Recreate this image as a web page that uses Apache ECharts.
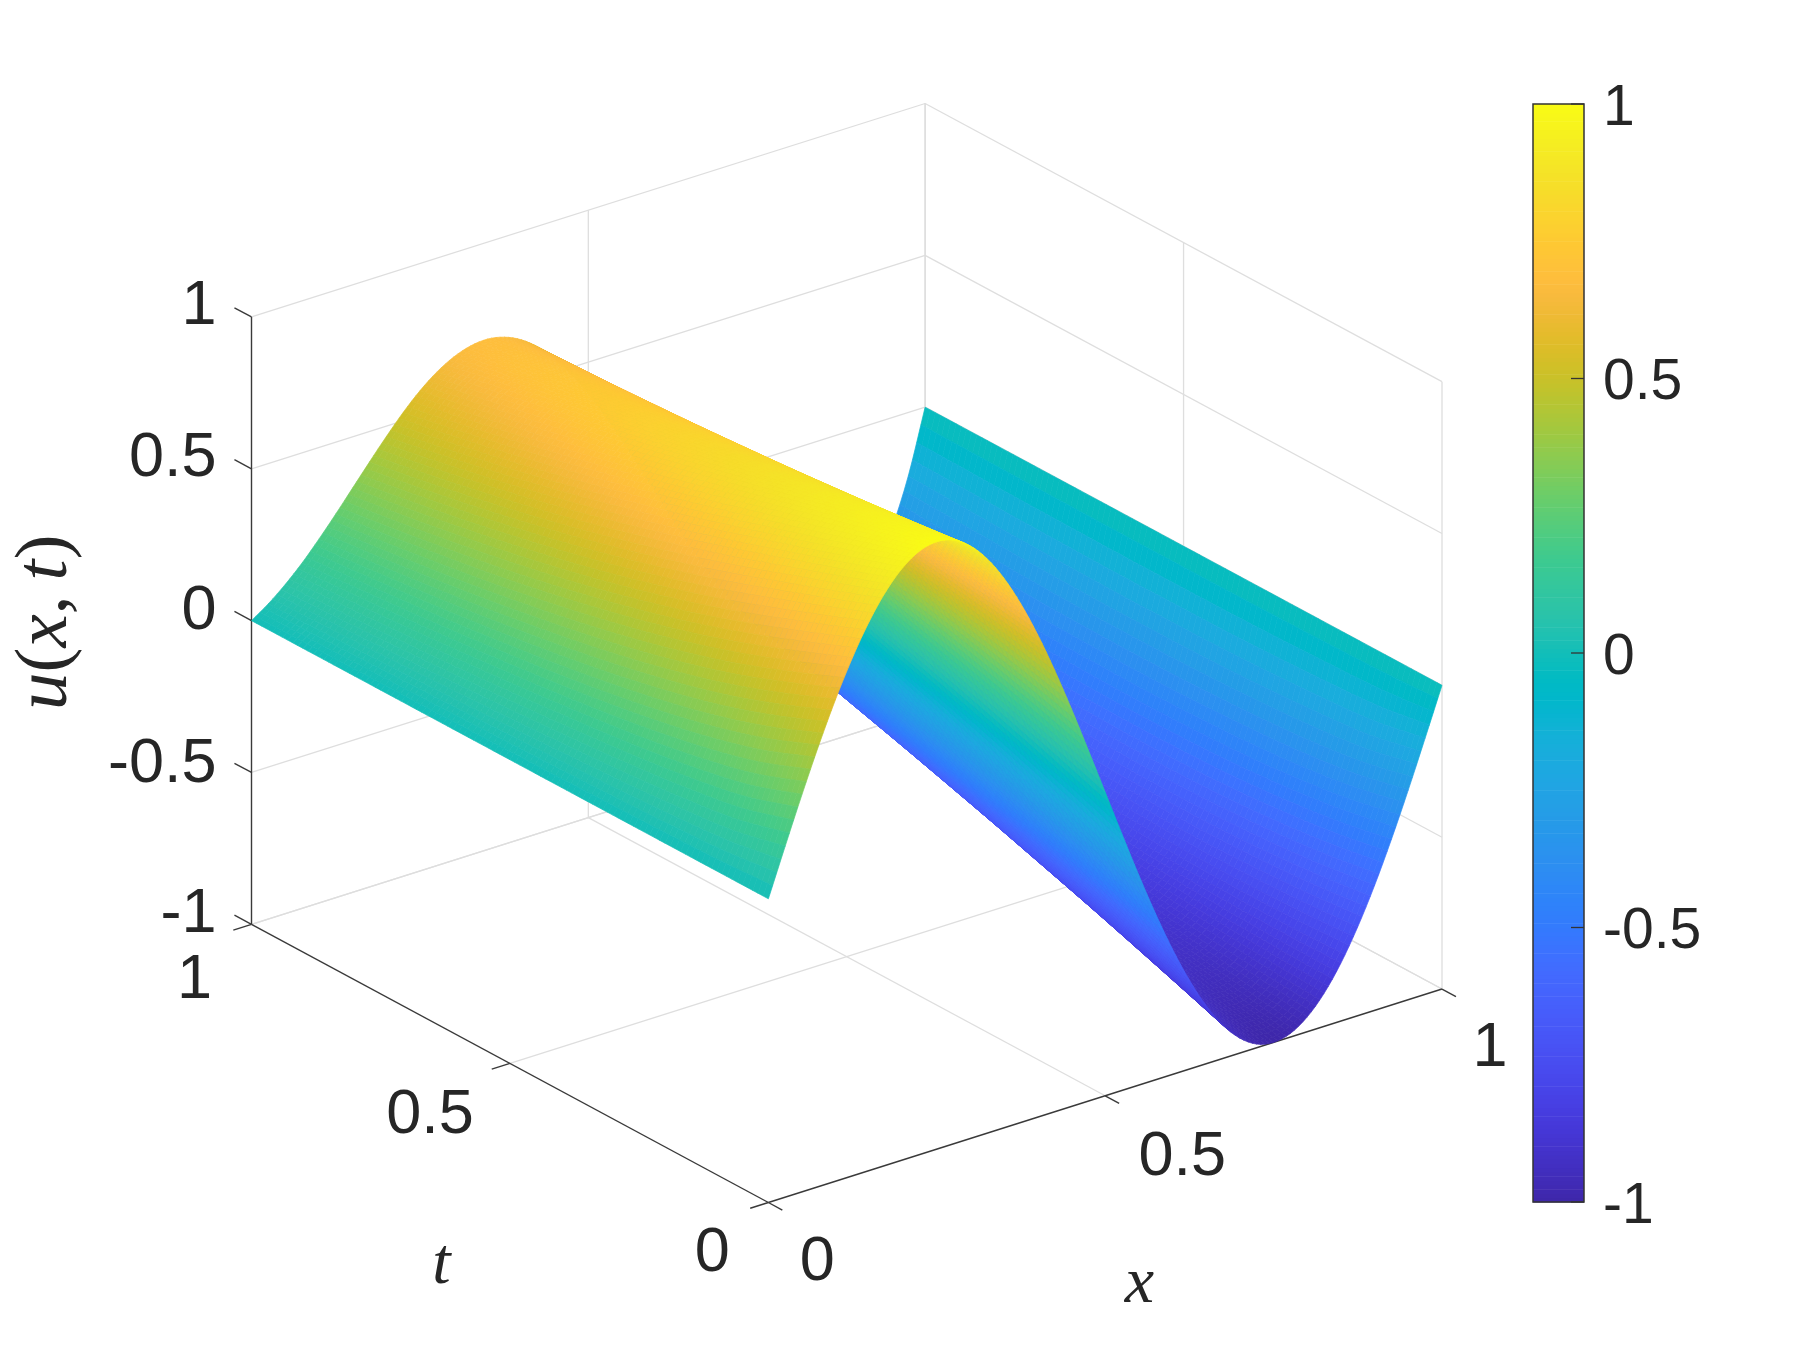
<!DOCTYPE html>
<html><head><meta charset="utf-8">
<style>html,body{margin:0;padding:0;background:#fff}#c{width:1799px;height:1353px}</style>
<script src="https://cdn.jsdelivr.net/npm/echarts@6/dist/echarts.min.js"></script></head>
<body><div id="c"></div>
<script>
const xs=[0,.025,.05,.075,.1,.125,.15,.175,.2,.225,.25,.275,.3,.325,.35,.375,.4,.425,.45,.475,.5,.525,.55,.575,.6,.625,.65,.675,.7,.725,.75,.775,.8,.825,.85,.875,.9,.925,.95,.975,1];
const ts=[0,.1,.2,.3,.4,.5,.6,.7,.8,.9,1];
const u_t00=[0,.156,.309,.454,.588,.707,.809,.891,.951,.988,1,.988,.951,.891,.809,.707,.588,.454,.309,.156,0,-.156,-.309,-.454,-.588,-.707,-.809,-.891,-.951,-.988,-1,-.988,-.951,-.891,-.809,-.707,-.588,-.454,-.309,-.156,0];
const u_t01=[0,.116,.248,.384,.516,.636,.741,.827,.894,.938,.959,.957,.931,.882,.812,.721,.613,.489,.354,.210,.060,-.090,-.239,-.382,-.515,-.636,-.741,-.827,-.894,-.938,-.959,-.957,-.931,-.882,-.812,-.721,-.613,-.488,-.348,-.190,0];
const u_t02=[0,.096,.209,.330,.452,.569,.675,.765,.836,.887,.917,.924,.908,.869,.810,.730,.633,.519,.393,.258,.116,-.029,-.173,-.313,-.445,-.566,-.674,-.764,-.836,-.887,-.917,-.924,-.908,-.869,-.810,-.729,-.630,-.511,-.372,-.205,0];
const u_t03=[0,.082,.180,.288,.400,.510,.613,.704,.779,.836,.873,.888,.881,.853,.804,.735,.648,.544,.428,.301,.166,.028,-.111,-.248,-.378,-.499,-.608,-.702,-.778,-.836,-.873,-.888,-.881,-.853,-.803,-.732,-.640,-.526,-.386,-.215,0];
const u_t04=[0,.072,.158,.254,.356,.459,.558,.648,.724,.785,.828,.850,.852,.833,.794,.735,.658,.565,.458,.339,.212,.080,-.054,-.186,-.314,-.435,-.544,-.641,-.721,-.784,-.827,-.850,-.852,-.832,-.791,-.728,-.643,-.533,-.394,-.221,0];
const u_t05=[0,.064,.140,.226,.319,.415,.508,.596,.673,.736,.783,.812,.821,.811,.781,.731,.664,.580,.483,.373,.254,.128,0,-.128,-.254,-.373,-.483,-.580,-.664,-.731,-.781,-.810,-.820,-.808,-.775,-.719,-.640,-.534,-.398,-.223,0];
const u_t06=[0,.057,.125,.203,.288,.376,.464,.548,.624,.689,.739,.773,.789,.786,.765,.724,.666,.592,.503,.402,.290,.172,.050,-.074,-.196,-.313,-.423,-.522,-.608,-.679,-.733,-.769,-.785,-.781,-.755,-.706,-.633,-.531,-.397,-.224,0];
const u_t07=[0,.051,.112,.183,.260,.342,.425,.505,.579,.644,.697,.734,.756,.760,.746,.714,.665,.600,.519,.426,.323,.212,.095,-.024,-.142,-.257,-.365,-.465,-.553,-.627,-.686,-.727,-.749,-.751,-.732,-.689,-.621,-.524,-.394,-.222,0];
const u_t08=[0,.046,.101,.166,.237,.313,.390,.466,.538,.602,.656,.697,.723,.733,.726,.701,.660,.603,.532,.447,.351,.247,.137,.023,-.091,-.203,-.310,-.410,-.499,-.576,-.638,-.683,-.711,-.719,-.706,-.669,-.606,-.514,-.387,-.219,0];
const u_t09=[0,.041,.092,.151,.216,.286,.359,.431,.500,.563,.617,.660,.690,.705,.704,.687,.653,.604,.541,.464,.376,.278,.174,.066,-.044,-.153,-.258,-.357,-.446,-.525,-.590,-.639,-.672,-.685,-.677,-.646,-.589,-.501,-.379,-.214,0];
const u_t10=[0,.038,.084,.137,.198,.263,.331,.399,.465,.527,.581,.625,.657,.676,.681,.670,.644,.602,.546,.477,.396,.306,.208,.105,0,-.105,-.208,-.306,-.395,-.475,-.542,-.595,-.632,-.649,-.647,-.621,-.568,-.486,-.368,-.209,0];
const U=[u_t00,u_t01,u_t02,u_t03,u_t04,u_t05,u_t06,u_t07,u_t08,u_t09,u_t10];
const zTicks=[-1,-0.5,0,0.5,1],xTicks=[0,0.5,1],tTicks=[0,0.5,1],barTicks=[-1,-0.5,0,0.5,1];
const zLab=['-1','-0.5','0','0.5','1'],xLab=['0','0.5','1'],tLab=['0','0.5','1'],barLab=['-1','-0.5','0','0.5','1'];
const parula=[[.2422,.1504,.6603],[.2504,.165,.7076],[.2578,.1818,.7511],[.2647,.1978,.7952],[.2706,.2147,.8364],[.2751,.2342,.871],[.2783,.2559,.8991],[.2803,.2782,.9221],[.2813,.3006,.9414],[.281,.3228,.9579],[.2795,.3447,.9717],[.276,.3667,.9829],[.2699,.3892,.9906],[.2602,.4123,.9952],[.244,.4358,.9988],[.2206,.4603,.9973],[.1963,.4847,.9892],[.1834,.5074,.9798],[.1786,.5289,.9682],[.1764,.5499,.952],[.1687,.5703,.9359],[.154,.5902,.9218],[.146,.6091,.9079],[.138,.6276,.8973],[.1248,.6459,.8883],[.1113,.6635,.8763],[.0952,.6798,.8598],[.0689,.6948,.8394],[.0297,.7082,.8163],[.0036,.7203,.7917],[.0067,.7312,.766],[.0433,.7411,.7394],[.0964,.75,.712],[.1408,.7584,.6842],[.1717,.767,.6554],[.1938,.7758,.6251],[.2161,.7843,.5923],[.247,.7918,.5567],[.2906,.7973,.5188],[.3406,.8008,.4789],[.3909,.8029,.4354],[.4456,.8024,.3909],[.5044,.7993,.348],[.5616,.7942,.3045],[.6174,.7876,.2612],[.672,.7793,.2227],[.7242,.7698,.191],[.7738,.7598,.1646],[.8203,.7498,.1535],[.8634,.7406,.1596],[.9035,.733,.1774],[.9393,.7288,.21],[.9728,.7298,.2394],[.9956,.7434,.2371],[.997,.7659,.2199],[.9952,.7861,.199],[.9892,.8136,.1885],[.9786,.8386,.1766],[.9676,.8639,.1643],[.961,.889,.1537],[.9597,.9135,.1423],[.9628,.9373,.1265],[.9691,.9606,.1064],[.9769,.9839,.0805]];
function color(u){
 const f=Math.max(0,Math.min(1,(u+1)/2))*(parula.length-1),i=Math.min(parula.length-2,Math.floor(f)),r=f-i;
 const a=parula[i],b=parula[i+1];
 return 'rgb('+[0,1,2].map(k=>Math.round(255*(a[k]+(b[k]-a[k])*r))).join(',')+')';
}
// view(-37.5, 30) of the unit box
const az=37.5*Math.PI/180,el=30*Math.PI/180,cA=Math.cos(az),sA=Math.sin(az),sE=Math.sin(el),cE=Math.cos(el);
const P=(x,t,u)=>[x*cA-t*sA,(x*sA+t*cA)*sE+(u+1)/2*cE];
const subX=4,subT=10;
// "shading interp": smooth shading of the table's nodes, sub-cell polygons drawn back to front
function cr(a,b,c,d,r){return b+0.5*r*(c-a+r*(2*a-5*b+4*c-d+r*(3*(b-c)+d-a)));}
function rowVal(row,fi){
 const n=row.length,i=Math.min(n-2,Math.floor(fi)),r=fi-i,b=row[i],c=row[i+1];
 const a=i>0?row[i-1]:2*b-c,d=i+2<n?row[i+2]:2*c-b;
 return cr(a,b,c,d,r);
}
function val(fi,fj){
 const n=ts.length,j=Math.min(n-2,Math.floor(fj)),r=fj-j;
 const b=rowVal(U[j],fi),c=rowVal(U[j+1],fi);
 const a=j>0?rowVal(U[j-1],fi):2*b-c,d=j+2<n?rowVal(U[j+2],fi):2*c-b;
 return cr(a,b,c,d,r);
}
function node(fi,fj){
 const x=xs[0]+fi/(xs.length-1)*(xs[xs.length-1]-xs[0]),t=ts[0]+fj/(ts.length-1)*(ts[ts.length-1]-ts[0]);
 return P(x,t,val(fi,fj));
}
const cells=[];
for(let j=(ts.length-1)*subT-1;j>=0;j--)for(let i=(xs.length-1)*subX-1;i>=0;i--)cells.push([i,j]);
const surface={type:'custom',coordinateSystem:'cartesian2d',xAxisIndex:0,yAxisIndex:0,data:cells,silent:true,animation:false,progressive:0,clip:false,z:3,
 renderItem(p,api){
  const i=api.value(0)/subX,j=api.value(1)/subT,di=1/subX,dj=1/subT;
  const pts=[[i,j],[i+di,j],[i+di,j+dj],[i,j+dj]].map(q=>api.coord(node(q[0],q[1])));
  const col=color(val(i+di/2,j+dj/2));
  return {type:'polygon',shape:{points:pts},style:{fill:col,stroke:col,lineWidth:0.7}};
 }};
const grid3=[],axis3=[];
zTicks.forEach(z=>{grid3.push([0,1,z,1,1,z]);grid3.push([1,1,z,1,0,z]);});
xTicks.forEach(x=>{if(x>0){grid3.push([x,1,-1,x,1,1]);grid3.push([x,0,-1,x,1,-1]);}});
tTicks.forEach(t=>{grid3.push([1,t,-1,1,t,1]);if(t>0)grid3.push([0,t,-1,1,t,-1]);});
axis3.push([0,1,-1,0,1,1],[0,1,-1,0,0,-1],[0,0,-1,1,0,-1]);
zTicks.forEach(z=>axis3.push([0,1,z,0,1.033,z]));
tTicks.forEach(t=>axis3.push([0,t,-1,-0.027,t,-1]));
xTicks.forEach(x=>axis3.push([x,0,-1,x,-0.027,-1]));
const seg=(data,col,w,z)=>({type:'custom',coordinateSystem:'cartesian2d',xAxisIndex:0,yAxisIndex:0,data,silent:true,animation:false,clip:false,z,
 renderItem(p,api){
  const a=api.coord(P(api.value(0),api.value(1),api.value(2))),b=api.coord(P(api.value(3),api.value(4),api.value(5)));
  return {type:'line',shape:{x1:a[0],y1:a[1],x2:b[0],y2:b[1]},style:{stroke:col,lineWidth:w}};
 }});
const TXT='#262626',SANS='"Liberation Sans",Arial,sans-serif',SERIF='"Liberation Serif",serif';
const labels=[];
zTicks.forEach((z,k)=>labels.push([0,1,z,zLab[k],-35,[-10,-8,-9,-10,-10][k],'right']));
xTicks.forEach((x,k)=>labels.push([x,0,-1,xLab[k],[49,77,48][k],[60,62,60][k],'center']));
tTicks.forEach((t,k)=>labels.push([0,t,-1,tLab[k],[-56,-80,-57][k],[51,52,56][k],'center']));
const labelSeries={type:'custom',coordinateSystem:'cartesian2d',xAxisIndex:0,yAxisIndex:0,data:labels.map((l,i)=>[i]),silent:true,animation:false,clip:false,z:5,
 renderItem(p,api){
  const l=labels[api.value(0)],a=api.coord(P(l[0],l[1],l[2]));
  return {type:'text',style:{text:l[3],x:a[0]+l[4],y:a[1]+l[5],fill:TXT,font:'63px '+SANS,align:l[6],verticalAlign:'middle'}};
 }};
const titles={type:'custom',coordinateSystem:'cartesian2d',xAxisIndex:0,yAxisIndex:0,data:[[0]],silent:true,animation:false,clip:false,z:5,
 renderItem(p,api){
  const a=api.coord(P(0,0,-1)),b=api.coord(P(0,1,-1));
  const it='italic 66px '+SERIF;
  return {type:'group',children:[
   {type:'text',style:{text:'x',x:a[0]+371,y:a[1]+82,fill:TXT,font:it,align:'center',verticalAlign:'middle'}},
   {type:'text',style:{text:'t',x:a[0]-327,y:a[1]+63,fill:TXT,font:it,align:'center',verticalAlign:'middle'}},
   {type:'text',x:b[0]-205,y:b[1]-302,rotation:Math.PI/2,style:{text:'{i|u}{r|(}{i|x}{r|,\u2009}{i|t}{r|)}',x:0,y:0,fill:TXT,align:'center',verticalAlign:'middle',
     rich:{i:{font:'italic 75px '+SERIF,fill:TXT},r:{font:'75px '+SERIF,fill:TXT}}}}
  ]};
 }};
const levels=[];for(let i=0;i<256;i++)levels.push([-1+2*i/256,-1+2*(i+1)/256]);
const bar={type:'custom',coordinateSystem:'cartesian2d',xAxisIndex:1,yAxisIndex:1,data:levels,silent:true,animation:false,z:2,
 renderItem(p,api){
  const a=api.coord([0,api.value(0)]),b=api.coord([1,api.value(1)]);
  const col=color((api.value(0)+api.value(1))/2);
  return {type:'rect',shape:{x:a[0],y:b[1],width:b[0]-a[0],height:a[1]-b[1]+0.6},style:{fill:col}};
 }};
const barTickSeries={type:'custom',coordinateSystem:'cartesian2d',xAxisIndex:1,yAxisIndex:1,data:barTicks.map((v,i)=>[v,i]),silent:true,animation:false,clip:false,z:6,
 renderItem(p,api){
  const a=api.coord([0.745,api.value(0)]),b=api.coord([1,api.value(0)]);
  return {type:'group',children:[
   {type:'line',shape:{x1:a[0],y1:a[1],x2:b[0],y2:b[1]},style:{stroke:'#333',lineWidth:1.3}},
   {type:'text',style:{text:barLab[api.value(1)],x:b[0]+19,y:b[1]+5,fill:TXT,font:'57px '+SANS,align:'left',verticalAlign:'middle'}}
  ]};
 }};
const ch=echarts.init(document.getElementById('c'),null,{renderer:'canvas'});
ch.setOption({animation:false,backgroundColor:'#fff',
 grid:[{left:251.5,width:1190.5,top:103.5,height:1099,containLabel:false},
       {left:1533,width:51,top:104,height:1098,show:true,borderColor:'#333',borderWidth:1.5,z:4}],
 xAxis:[{type:'value',gridIndex:0,min:-sA,max:cA,show:false},{type:'value',gridIndex:1,min:0,max:1,show:false}],
 yAxis:[{type:'value',gridIndex:0,min:0,max:(sA+cA)*sE+cE,show:false},
  {type:'value',gridIndex:1,min:-1,max:1,interval:0.5,position:'right',axisLine:{show:false},axisTick:{show:false},splitLine:{show:false},axisLabel:{show:false}}],
 series:[seg(grid3,'#dedede',1.3,1),seg(axis3,'#3a3a3a',1.4,2),surface,labelSeries,titles,bar,barTickSeries]});
</script></body></html>
